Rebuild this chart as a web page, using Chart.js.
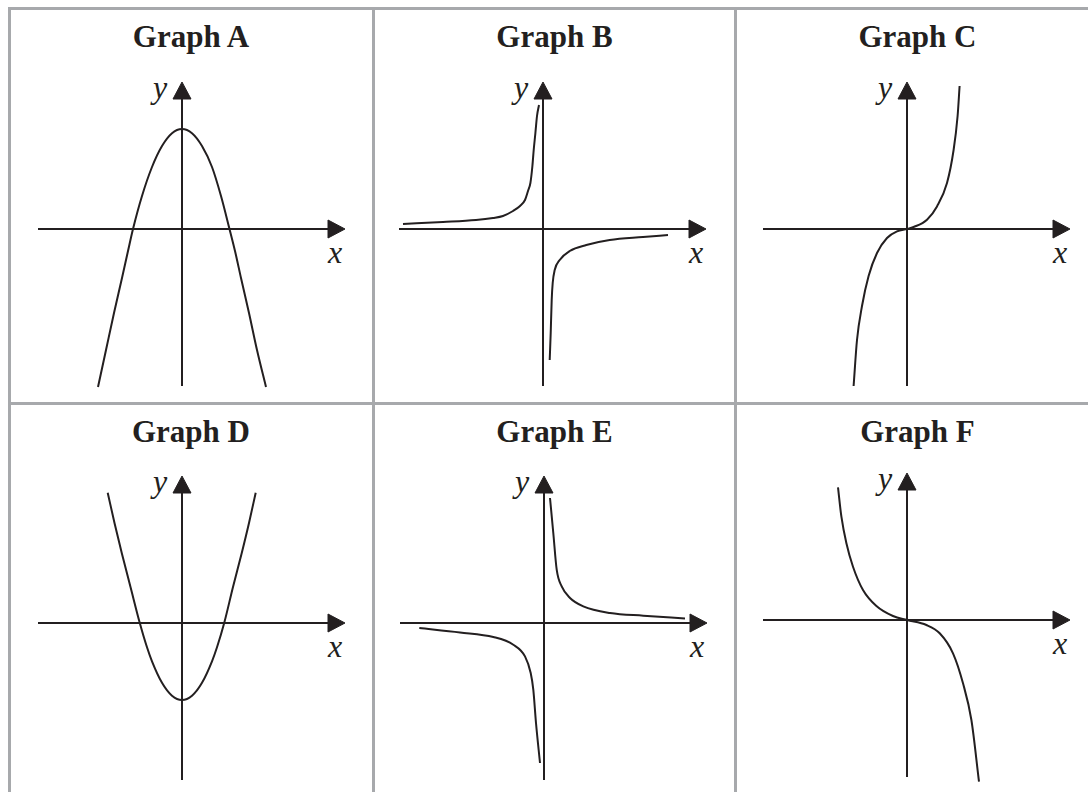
<!DOCTYPE html>
<html><head><meta charset="utf-8">
<script src="https://cdn.jsdelivr.net/npm/chart.js@4.4.1/dist/chart.umd.min.js"></script>
<style>
html,body{margin:0;padding:0;background:#fff;}
body{width:1088px;height:792px;position:relative;overflow:hidden;}
.rule{position:absolute;background:#a7a9ac;}
.title{position:absolute;width:300px;text-align:center;font-family:"Liberation Serif","Times New Roman",serif;font-weight:bold;font-size:31px;line-height:31px;color:#231f20;white-space:nowrap;}
.lab{position:absolute;font-family:"Liberation Serif","Times New Roman",serif;font-style:italic;font-size:32px;line-height:32px;color:#231f20;white-space:nowrap;}
canvas{position:absolute;}
</style></head><body>
<script>
// ---- Data (graph units; origin at the axes crossing) ----
const titles = ['Graph A','Graph B','Graph C','Graph D','Graph E','Graph F'];
const axisLabels = ['x','y'];
const xAxisRange = [-14.4, 16.3];   // axis start, arrow tip
const yAxisRange = [-15.7, 14.7];

const curveA = [[-8.4,-15.8],[-7.6,-12.1],[-6.8,-8.4],[-6.0,-4.9],[-5.4,-2.2],[-4.9,0],[-4.0,3.3],[-3.0,6.2],[-2.0,8.3],[-1.0,9.58],[0,10.0],[1.0,9.58],[2.0,8.3],[3.0,6.2],[3.9,3.3],[4.75,0],[5.3,-2.2],[5.9,-4.9],[6.7,-8.4],[7.5,-12.1],[8.4,-15.8]];
const curveB1 = [[-14.0,0.5],[-10.0,0.7],[-6.7,0.9],[-5.0,1.1],[-4.0,1.3],[-3.0,1.8],[-2.3,2.3],[-1.8,2.9],[-1.5,3.8],[-1.26,4.6],[-1.06,6.3],[-0.93,7.9],[-0.76,9.6],[-0.6,11.3],[-0.4,12.4]];
const curveB2 = [[0.67,-13.1],[0.77,-10.4],[0.87,-7.1],[0.97,-5.4],[1.17,-4.1],[1.67,-3.1],[2.67,-2.2],[4.33,-1.6],[6.67,-1.1],[10.0,-0.8],[12.5,-0.6]];
const curveC = [[-5.34,-15.7],[-5.0,-11.1],[-4.5,-7.7],[-3.84,-4.7],[-3.0,-2.4],[-2.0,-0.9],[-1.0,-0.24],[0,0],[0.66,0.2],[2.0,0.93],[3.0,2.26],[4.0,4.6],[4.66,7.9],[5.06,11.3],[5.26,14.3]];
const curveD = [[-7.43,13.03],[-6.75,10.0],[-6.0,6.9],[-5.15,3.6],[-4.22,0],[-3.5,-2.43],[-3.0,-3.83],[-2.0,-5.98],[-1.0,-7.27],[0,-7.7],[1.0,-7.27],[2.0,-5.98],[3.0,-3.83],[3.5,-2.43],[4.22,0],[5.1,3.6],[5.95,6.9],[6.7,10.0],[7.37,13.03]];
const curveE1 = [[0.6,12.5],[0.93,9.0],[1.27,5.33],[1.77,3.66],[2.6,2.5],[3.93,1.66],[6.6,1.0],[9.93,0.73],[14.1,0.46]];
const curveE2 = [[-12.47,-0.5],[-8.4,-0.94],[-5.07,-1.4],[-3.07,-2.17],[-1.9,-3.34],[-1.33,-5.0],[-1.07,-6.67],[-0.8,-10.0],[-0.4,-14.0]];
const curveF = [[-6.9,13.27],[-6.56,10.33],[-6.06,7.67],[-5.4,5.33],[-4.4,3.0],[-3.06,1.4],[-1.4,0.4],[0,0],[1.94,-0.5],[3.27,-1.33],[4.6,-3.33],[5.6,-6.33],[6.44,-10.0],[7.2,-16.17]];
const panelCurves = [[curveA],[curveB1,curveB2],[curveC],[curveD],[curveE1,curveE2],[curveF]];

// ---- Layout / style ----
const INK = '#231f20';
const origins = [[182,229],[543,229],[907,229],[182,623],[544,623],[907,620]];
const titleCenters = [191,554.5,917.5];
const titleBaselines = [47,441.5];
const CW = 360, CH = 370, OX = 180, OY = 190, UNIT = 10;
const arrowLen = 1.7, arrowHalf = 0.9;

function addRule(l,t,w,h){const d=document.createElement('div');d.className='rule';d.style.left=l+'px';d.style.top=t+'px';d.style.width=w+'px';d.style.height=h+'px';document.body.appendChild(d);}
addRule(8,7,1080,3);
addRule(8,402,1080,3);
addRule(8,7,3,785);
addRule(372,7,3,785);
addRule(734,7,3,785);

function addText(cls,text,l,t,w){const d=document.createElement('div');d.className=cls;d.textContent=text;d.style.left=l+'px';d.style.top=t+'px';if(w)d.style.width=w+'px';document.body.appendChild(d);}

const pts = arr => arr.map(([x,y])=>({x,y}));

titles.forEach((title,i)=>{
  const col=i%3,row=Math.floor(i/3);
  addText('title',title,titleCenters[col]-150,titleBaselines[row]-26);
  const [ox,oy]=origins[i];
  addText('lab',axisLabels[1],ox-29,oy-158);
  addText('lab',axisLabels[0],ox+146,oy+7);

  const cv=document.createElement('canvas');
  cv.width=CW;cv.height=CH;cv.style.width=CW+'px';cv.style.height=CH+'px';
  cv.style.left=(ox-OX)+'px';cv.style.top=(oy-OY)+'px';
  document.body.appendChild(cv);

  const xTip=xAxisRange[1], yTip=yAxisRange[1];
  const datasets=[
    {data:pts([[xAxisRange[0],0],[xTip-arrowLen,0]]),borderColor:INK,borderWidth:2,tension:0},
    {data:pts([[0,yAxisRange[0]],[0,yTip-arrowLen]]),borderColor:INK,borderWidth:2,tension:0},
    {data:pts([[xTip-arrowLen,arrowHalf],[xTip,0],[xTip-arrowLen,-arrowHalf],[xTip-arrowLen,arrowHalf]]),borderColor:INK,borderWidth:1,backgroundColor:INK,fill:'shape',tension:0},
    {data:pts([[-arrowHalf,yTip-arrowLen],[0,yTip],[arrowHalf,yTip-arrowLen],[-arrowHalf,yTip-arrowLen]]),borderColor:INK,borderWidth:1,backgroundColor:INK,fill:'shape',tension:0}
  ];
  panelCurves[i].forEach(c=>datasets.push({data:pts(c),borderColor:INK,borderWidth:2,cubicInterpolationMode:'monotone',borderCapStyle:'butt'}));
  datasets.forEach(d=>{d.showLine=true;d.pointRadius=0;d.pointHoverRadius=0;d.clip=false;if(d.fill===undefined)d.fill=false;});

  new Chart(cv,{type:'scatter',data:{datasets},options:{
    responsive:false,animation:false,events:[],devicePixelRatio:1,
    layout:{padding:0},
    plugins:{legend:{display:false},tooltip:{enabled:false},title:{display:false}},
    scales:{x:{type:'linear',min:-OX/UNIT,max:(CW-OX)/UNIT,display:false},
            y:{type:'linear',min:-(CH-OY)/UNIT,max:OY/UNIT,display:false}}
  }});
});
</script>
</body></html>
